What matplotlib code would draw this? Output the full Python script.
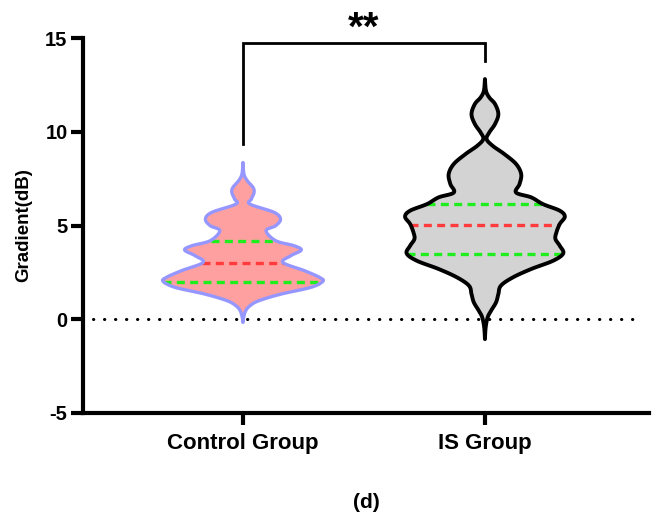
import numpy as np
import matplotlib
matplotlib.use("Agg")
import matplotlib.pyplot as plt
from matplotlib.patches import Polygon

plt.rcParams['font.family'] = ['Liberation Sans', 'DejaVu Sans']
plt.rcParams['font.weight'] = 'bold'

# ---- data -------------------------------------------------------------
groups = ["Control Group", "IS Group"]
positions = [0, 1]

# density profiles (value, relative density, max = 1)
control_values = [8.36, 7.74, 7.39, 7.03, 6.76, 6.41, 6.14, 5.70, 5.34, 4.99, 4.72,
                  4.19, 3.92, 3.69, 3.39, 3.03, 2.59, 2.23, 2.02, 1.70, 1.34, 0.99,
                  0.72, 0.45, 0.10, -0.17]
control_density = [0.0, 0.013, 0.054, 0.126, 0.139, 0.105, 0.088, 0.39, 0.47, 0.41, 0.29,
                   0.41, 0.64, 0.73, 0.60, 0.50, 0.77, 0.96, 1.0, 0.85, 0.475, 0.20,
                   0.088, 0.034, 0.009, 0.0]

is_values = [12.81, 12.19, 11.83, 11.48, 10.94, 10.41, 9.96, 9.61, 9.25, 8.81, 8.28,
             7.74, 7.21, 6.76, 6.50, 6.14, 5.79, 5.47, 5.08, 4.63, 4.28, 3.92, 3.51,
             3.12, 2.68, 2.23, 1.79, 1.34, 0.90, 0.45, 0.10, -0.44, -1.06]
is_density = [0.0, 0.013, 0.054, 0.126, 0.168, 0.126, 0.054, 0.021, 0.097, 0.243, 0.39,
              0.454, 0.433, 0.39, 0.58, 0.727, 0.937, 1.0, 0.937, 0.895, 0.883, 0.937,
              0.98, 0.853, 0.58, 0.349, 0.20, 0.168, 0.139, 0.076, 0.034, 0.009, 0.0]

# quartiles: Q1, median, Q3
control_quartiles = [2.0, 3.0, 4.2]
is_quartiles = [3.5, 5.05, 6.15]

significance = "**"

yticks = [-5, 0, 5, 10, 15]

# ---- helpers ----------------------------------------------------------
def catmull_rom(v, w, n=24):
    pts = np.column_stack([v, w]).astype(float)
    pts = np.vstack([pts[0], pts, pts[-1]])
    out = []
    t = np.linspace(0, 1, n, endpoint=False)[:, None]
    for i in range(1, len(pts) - 2):
        p0, p1, p2, p3 = pts[i - 1], pts[i], pts[i + 1], pts[i + 2]
        seg = 0.5 * (2 * p1 + (-p0 + p2) * t + (2 * p0 - 5 * p1 + 4 * p2 - p3) * t ** 2
                     + (-p0 + 3 * p1 - 3 * p2 + p3) * t ** 3)
        out.append(seg)
    out.append(pts[-2][None, :])
    out = np.vstack(out)
    out[:, 1] = np.clip(out[:, 1], 0, None)
    return out[:, 0], out[:, 1]


def draw_violin(ax, pos, values, density, quartiles, face, edge, edge_lw, half_width=0.33):
    sv, sw = catmull_rom(values, density)
    xr = pos + sw * half_width
    xl = pos - sw * half_width
    poly = np.vstack([np.column_stack([xr, sv]), np.column_stack([xl, sv])[::-1]])
    ax.add_patch(Polygon(poly, closed=True, facecolor=face, edgecolor='none', zorder=1))
    order = np.argsort(sv)
    for k, q in enumerate(quartiles):
        wq = np.interp(q, sv[order], sw[order]) * half_width
        col = '#FF3B3B' if k == 1 else '#1EEE1E'
        ax.plot([pos - wq, pos + wq], [q, q], color=col, lw=2.4,
                dashes=(2.4, 1.6), solid_capstyle='butt', dash_capstyle='butt', zorder=2)
    ax.add_patch(Polygon(poly, closed=True, facecolor='none', edgecolor=edge,
                         lw=edge_lw, joinstyle='round', zorder=3))


# ---- figure -----------------------------------------------------------
fig = plt.figure(figsize=(6.56, 5.21), dpi=100)
ax = fig.add_axes([83 / 656, 1 - 413 / 521, (649 - 83) / 656, (413 - 38) / 521])

ax.set_xlim(-0.661, 1.678)
ax.set_ylim(-5, 15)

ax.plot([-0.62, 1.632], [0, 0], color='black', lw=2.2, dashes=(0.1, 3.5),
        dash_capstyle='round', zorder=0.5)

draw_violin(ax, positions[0], control_values, control_density, control_quartiles,
            face='#FFA0A0', edge='#9696FF', edge_lw=2.4)
draw_violin(ax, positions[1], is_values, is_density, is_quartiles,
            face='#D3D3D3', edge='black', edge_lw=2.8)

# significance bracket
ax.plot([positions[0], positions[0], positions[1], positions[1]],
        [9.34, 14.76, 14.76, 13.79], color='black', lw=2.0,
        solid_joinstyle='miter', clip_on=False, zorder=4)
ax.text(0.5, 15.5, significance, ha='center', va='center', fontsize=29,
        fontweight='bold', clip_on=False)

for side in ['top', 'right']:
    ax.spines[side].set_visible(False)
for side in ['left', 'bottom']:
    ax.spines[side].set_linewidth(3.0)
    ax.spines[side].set_capstyle('projecting')

ax.set_yticks(yticks)
ax.set_yticklabels([str(t) for t in yticks], fontsize=14.5, fontweight='bold')
ax.set_xticks(positions)
ax.set_xticklabels(groups, fontsize=16, fontweight='bold')
ax.tick_params(axis='both', width=3.0, length=8.6)
ax.tick_params(axis='y', pad=2.5)
ax.tick_params(axis='x', pad=6)

fig.text(24 / 656, 1 - 225.5 / 521, "Gradient(dB)", rotation=90, ha='center',
         va='center', fontsize=13.5, fontweight='bold')
fig.text(366 / 656, 1 - 502 / 521, "(d)", ha='center', va='center',
         fontsize=15, fontweight='bold')

fig.savefig("out.png", dpi=100)
